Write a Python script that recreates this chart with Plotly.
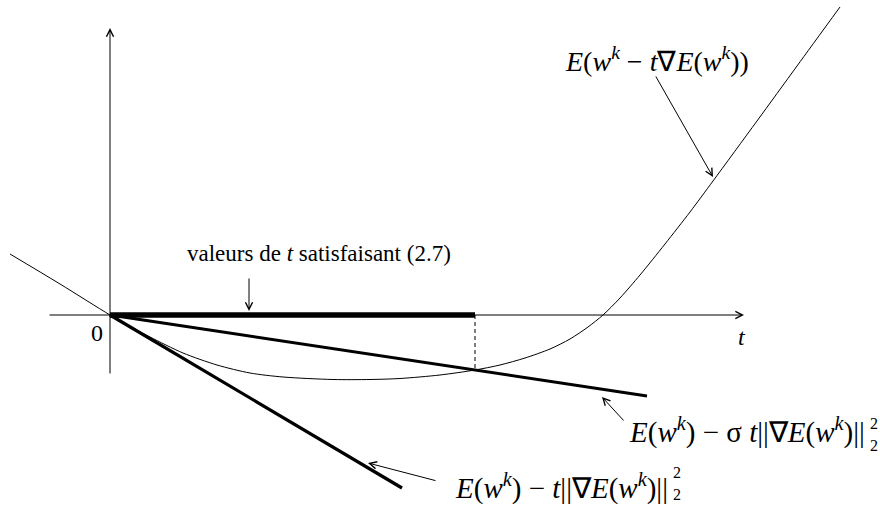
import plotly.graph_objects as go

# --- data (t on the horizontal axis, E on the vertical axis) ---
# sampled values of E(w^k - t grad E(w^k))
curve_t = [-1.00, -0.50, 0.00, 0.20, 0.40, 0.73, 1.07, 1.40, 1.73, 2.23, 2.60, 2.90,
           3.30, 3.65, 3.90, 4.15, 4.40, 4.60, 4.78, 4.93, 5.10, 5.30, 5.55, 5.80,
           6.03, 6.47, 6.87, 7.30]
curve_E = [0.61, 0.31, 0.00, -0.114, -0.22, -0.38, -0.50, -0.58, -0.62, -0.645, -0.645, -0.635,
           -0.60, -0.55, -0.50, -0.43, -0.34, -0.24, -0.12, 0.00, 0.17, 0.40, 0.71, 1.03,
           1.34, 1.94, 2.49, 3.08]

# tangent line E(w^k) - t ||grad E||^2
steep_t = [0.00, 2.92]
steep_E = [0.00, -1.73]

# relaxed line E(w^k) - sigma t ||grad E||^2
sigma_t = [0.00, 5.37]
sigma_E = [0.00, -0.81]

# admissible step sizes: [0, t_star]
accept_t = [0.00, 3.65]
accept_E = [0.00, 0.00]
t_star_E = [0.00, -0.55]

# axis extents
xaxis_t = [-0.62, 6.34]
yaxis_E = [-0.60, 2.87]

FONT = "Liberation Serif, Times New Roman, Times, serif"
BLACK = "#000000"

fig = go.Figure()

fig.add_trace(go.Scatter(x=curve_t, y=curve_E, mode="lines",
                         line=dict(color=BLACK, width=1, shape="spline", smoothing=0.8),
                         hoverinfo="skip"))
fig.add_trace(go.Scatter(x=steep_t, y=steep_E, mode="lines",
                         line=dict(color=BLACK, width=3.2), hoverinfo="skip"))
fig.add_trace(go.Scatter(x=sigma_t, y=sigma_E, mode="lines",
                         line=dict(color=BLACK, width=3), hoverinfo="skip"))
fig.add_trace(go.Scatter(x=[accept_t[1], accept_t[1]], y=t_star_E, mode="lines",
                         line=dict(color=BLACK, width=1, dash="4px,3px"), hoverinfo="skip"))

annotations = []


def arrow(x0, y0, x1, y1, head=5, size=1.4, width=1.0):
    """Arrow drawn from (x0, y0) to (x1, y1) in data units."""
    annotations.append(dict(x=x1, y=y1, ax=x0, ay=y0, xref="x", yref="y",
                            axref="x", ayref="y", text="", showarrow=True,
                            arrowhead=head, arrowsize=size, arrowwidth=width,
                            arrowcolor=BLACK, standoff=0, startstandoff=0))


def label(x, y, text, size=24, xanchor="center", yanchor="middle"):
    annotations.append(dict(x=x, y=y, xref="x", yref="y", text=text, showarrow=False,
                            xanchor=xanchor, yanchor=yanchor,
                            font=dict(family=FONT, size=size, color=BLACK)))


def norm_sq(x_end, y_mid):
    """Stacked exponent / index 2 after a norm bar."""
    label(x_end, y_mid + 0.115, "2", size=16, xanchor="left")
    label(x_end, y_mid - 0.105, "2", size=16, xanchor="left")


# coordinate axes
arrow(xaxis_t[0], 0, xaxis_t[1], 0)
arrow(0, yaxis_E[0], 0, yaxis_E[1])

fig.add_trace(go.Scatter(x=accept_t, y=accept_E, mode="lines",
                         line=dict(color=BLACK, width=5.5), hoverinfo="skip"))

label(-0.13, -0.18, "0")
label(6.32, -0.22, "<i>t</i>")

# step-size set label
label(2.09, 0.62, "valeurs de <i>t</i> satisfaisant (2.7)", size=23)
arrow(1.39, 0.38, 1.39, 0.04)

# curve label
label(5.47, 2.56, "<i>E</i>(<i>w</i><sup><i>k</i></sup> − <i>t</i>∇<i>E</i>(<i>w</i><sup><i>k</i></sup>))",
      size=28)
arrow(5.45, 2.40, 6.03, 1.38)

# sigma line label
label(7.57, -1.15,
      "<i>E</i>(<i>w</i><sup><i>k</i></sup>) − σ <i>t</i>||∇<i>E</i>(<i>w</i><sup><i>k</i></sup>)||",
      size=29, xanchor="right")
norm_sq(7.58, -1.20)
arrow(5.15, -1.07, 4.92, -0.82)

# tangent line label
label(5.60, -1.71,
      "<i>E</i>(<i>w</i><sup><i>k</i></sup>) − <i>t</i>||∇<i>E</i>(<i>w</i><sup><i>k</i></sup>)||",
      size=29, xanchor="right")
norm_sq(5.61, -1.69)
arrow(3.27, -1.66, 2.58, -1.48)

fig.update_layout(
    width=880, height=509,
    margin=dict(l=0, r=0, t=0, b=0),
    paper_bgcolor="white", plot_bgcolor="white",
    showlegend=False,
    xaxis=dict(range=[-1.10, 7.70], visible=False, fixedrange=True),
    yaxis=dict(range=[-1.94, 3.15], visible=False, fixedrange=True),
    annotations=annotations,
)

fig.write_html("out.html")
